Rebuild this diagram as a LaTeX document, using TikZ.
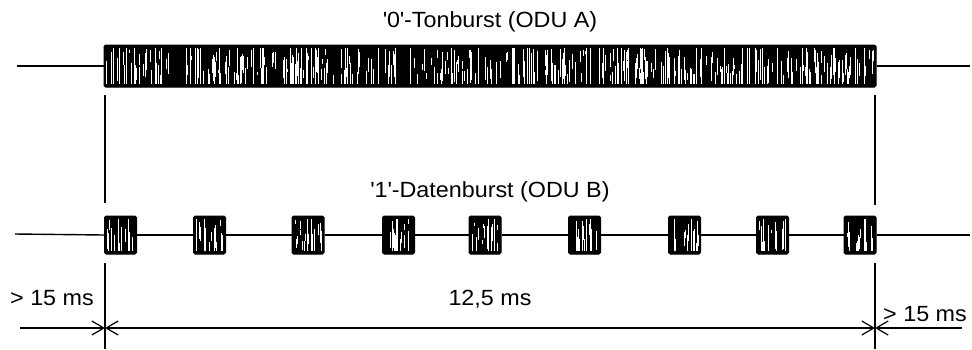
\documentclass[tikz,border=0pt]{standalone}
\usepackage{fontspec}
\setmainfont[FakeStretch=1.06]{Liberation Sans}
\usetikzlibrary{arrows.meta}
\newcommand{\mystreaks}[5]{%
  \foreach \k in {1,...,#5}{%
    \pgfmathsetmacro{\sx}{(#1)+1.5+rnd*((#2)-(#1)-3)}%
    \pgfmathsetmacro{\sy}{(#3)+1+rnd*((#4)-(#3)-2)*0.75}%
    \pgfmathsetmacro{\sl}{min(3+rnd*((#4)-(#3))*0.8, (#4)-1-\sy)}%
    \pgfmathsetmacro{\sw}{0.3+rnd*0.6}%
    \draw[white, line width=\sw pt] (\sx,\sy) -- ++(0,\sl);}}
\newcommand{\fullstreaks}[5]{%
  \foreach \k in {1,...,#5}{%
    \pgfmathsetmacro{\sx}{(#1)+1.5+rnd*((#2)-(#1)-3)}%
    \pgfmathsetmacro{\sw}{0.3+rnd*0.8}%
    \draw[white, line width=\sw pt] (\sx,#3) -- (\sx,#4);}}
\begin{document}
\begin{tikzpicture}[x=1pt,y=-1pt,
  lbl/.style={font=\fontsize{22}{26}\selectfont, inner sep=0pt},
  burstbox/.style={draw=black, fill=black, line width=1pt, inner sep=0pt, rounded corners=1.5pt},
  pulse/.style={burstbox, minimum width=32pt, minimum height=38pt},
  wire/.style={line width=1.4pt},
  guide/.style={line width=1.4pt},
  dimline/.style={line width=1.2pt},
  barb/.tip={Straight Barb[length=12pt,width=14pt,line width=1.2pt]},
]
\useasboundingbox (0,0) rectangle (972,349);
\pgfmathsetseed{17}

% top burst
\node[burstbox, minimum width=772pt, minimum height=42pt] (burstA) at (490,66) {};
\coordinate (aL) at (17,66);
\coordinate (aR) at (970,66);
\draw[wire] (aL) -- (burstA.west);
\draw[wire] (burstA.east) -- (aR);
\begin{scope}
  \clip (106,47) rectangle (874,85);
  \fullstreaks{105}{875}{48}{84}{60}
  \mystreaks{105}{875}{47}{85}{380}
\end{scope}

\node[lbl] (t0) at (490,22) {\textquotesingle0\textquotesingle-Tonburst (ODU A)};

% guides upper
\coordinate (gA1) at (105,95);
\coordinate (gA2) at (105,203);
\coordinate (gB1) at (875,95);
\coordinate (gB2) at (875,205);
\draw[guide] (gA1) -- (gA2);
\draw[guide] (gB1) -- (gB2);

\node[lbl] (t1) at (490,192) {\textquotesingle1\textquotesingle-Datenburst (ODU B)};

% pulses
\foreach \n/\x in {1/120.5, 2/209.5, 3/308, 4/398.5, 5/485, 6/584.5, 7/684.5, 8/772.5, 9/860}{
  \node[pulse] (p\n) at (\x,235) {};
  \begin{scope}
    \clip (\x-15,218) rectangle (\x+15,252);
    \fullstreaks{\x-15}{\x+15}{219}{251}{2}
    \mystreaks{\x-15}{\x+15}{218}{252}{14}
  \end{scope}
}
\coordinate (bL) at (15,234);
\coordinate (bR) at (970,235);
\draw[wire] (bL) -- (p1.west);
\foreach \a/\b in {1/2,2/3,3/4,4/5,5/6,6/7,7/8,8/9}{
  \draw[wire] (p\a.east) -- (p\b.west);
}
\draw[wire] (p9.east) -- (bR);

% guides lower
\coordinate (gC1) at (105,263);
\coordinate (gC2) at (105,349);
\coordinate (gD1) at (875,263);
\coordinate (gD2) at (875,349);
\draw[guide] (gC1) -- (gC2);
\draw[guide] (gD1) -- (gD2);

% dimensions
\coordinate (dL) at (105,328);
\coordinate (dR) at (875,328);
\coordinate (la) at (20,328);
\coordinate (ra) at (962,328);
\draw[dimline, -barb] (la) -- (dL);
\draw[dimline, barb-barb] (dL) -- (dR);
\draw[dimline, -barb] (ra) -- (dR);

\node[lbl] (tl) at (52,298) {> 15 ms};
\node[lbl] (tm) at (490,299) {12,5 ms};
\node[lbl] (tr) at (925,314) {> 15 ms};
\end{tikzpicture}
\end{document}
